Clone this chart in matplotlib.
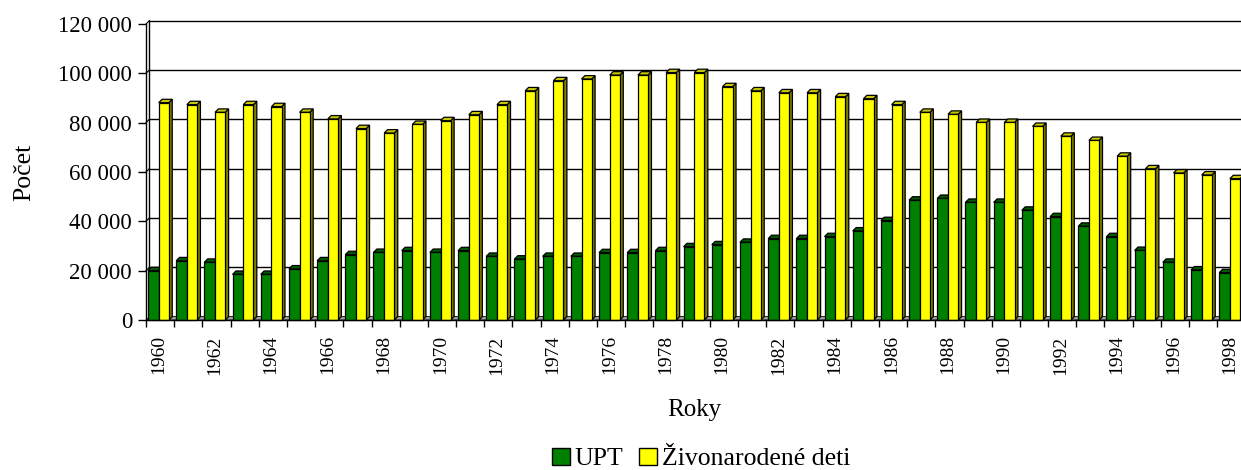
import matplotlib
matplotlib.use('Agg')
import matplotlib.pyplot as plt
from matplotlib.patches import Polygon, Patch
from matplotlib.ticker import FuncFormatter
import numpy as np

years = list(range(1960, 1999))
upt = [20000, 24000, 23400, 18500, 18500, 20700, 24000, 26500, 27400, 28100,
       27400, 28100, 25800, 24700, 25800, 25800, 27300, 27300, 28100, 29700,
       30500, 31500, 33000, 33000, 33800, 36100, 40300, 48600, 49300, 47700,
       47700, 44500, 41900, 38000, 33800, 28200, 23400, 20300, 19200]
births = [88100, 87300, 84200, 87300, 86500, 84200, 81500, 77600, 75800, 79300,
          80800, 83200, 87300, 92900, 97000, 97700, 99300, 99300, 100300, 100300,
          94600, 92900, 92100, 92100, 90500, 89700, 87300, 84200, 83400, 80100,
          80100, 78500, 74500, 72800, 66400, 61300, 59600, 58800, 57300]
series_names = ['UPT', 'Živonarodené deti']
x_label = 'Roky'
y_label = 'Počet'

plt.rcParams['font.family'] = ['Liberation Serif', 'DejaVu Serif']

W, H = 1241, 470
fig = plt.figure(figsize=(W / 100, H / 100), dpi=100)
n = len(years)
cat_px = 28.19
ax = fig.add_axes([146 / W, 150 / H, n * cat_px / W, 296 / H])
ymax = 120000
ax.set_xlim(0, n)
ax.set_ylim(0, ymax)

depth_px = 3.4
dx = depth_px / cat_px
dy = depth_px * ymax / 296.0

# back wall gridlines
for v in range(20000, ymax + 1, 20000):
    ax.plot([dx, n + dx], [v + dy, v + dy], color='black', lw=1.0, zorder=1, clip_on=False)
    ax.plot([0, dx], [v, v + dy], color='black', lw=0.8, zorder=1, clip_on=False)
# back wall vertical line
ax.plot([dx, dx], [dy, ymax + dy], color='black', lw=1.0, zorder=1, clip_on=False)
# floor
ax.add_patch(Polygon([(0, 0), (n, 0), (n + dx, dy), (dx, dy)], closed=True,
                     facecolor='#a0a0a0', edgecolor='black', lw=0.6, zorder=1.5, clip_on=False))

x = np.arange(n)
g_off, g_w = 0.07, 0.38
y_off, y_w = 0.45, 0.36


def draw_3d(xs, vals, width, top, side, z):
    for x0, h in zip(xs, vals):
        x1 = x0 + width
        ax.add_patch(Polygon([(x1, 0), (x1, h), (x1 + dx, h + dy), (x1 + dx, dy)],
                             closed=True, facecolor=side, edgecolor='black', lw=0.9,
                             zorder=z, clip_on=False))
        ax.add_patch(Polygon([(x0, h), (x1, h), (x1 + dx, h + dy), (x0 + dx, h + dy)],
                             closed=True, facecolor=top, edgecolor='black', lw=0.9,
                             zorder=z, clip_on=False))


draw_3d(x + g_off, upt, g_w, '#005a00', '#003c00', 2)
ax.bar(x + g_off, upt, width=g_w, align='edge', color='#008000', edgecolor='black',
       lw=0.9, zorder=2.1, clip_on=False)
draw_3d(x + y_off, births, y_w, '#c8c800', '#808000', 2.2)
ax.bar(x + y_off, births, width=y_w, align='edge', color='#ffff00', edgecolor='black',
       lw=0.9, zorder=2.3, clip_on=False)

for s in ['top', 'right']:
    ax.spines[s].set_visible(False)
ax.spines['left'].set_linewidth(1.0)
ax.spines['bottom'].set_linewidth(1.0)
ax.spines['left'].set_zorder(3)
ax.spines['bottom'].set_zorder(3)

ax.set_yticks(range(0, ymax + 1, 20000))
ax.yaxis.set_major_formatter(FuncFormatter(lambda v, p: f"{int(v):,}".replace(',', ' ')))
ax.tick_params(axis='y', direction='out', length=6, width=1, pad=4, labelsize=16.5)

ax.set_xticks(np.arange(0, n + 1))
ax.set_xticklabels([])
lab_idx = [i for i in range(n) if years[i] % 2 == 0]
ax.set_xticks([i + 0.44 for i in lab_idx], labels=[str(years[i]) for i in lab_idx], minor=True)
ax.tick_params(axis='x', which='major', direction='out', length=5, width=1)
ax.tick_params(axis='x', which='minor', length=0, pad=11, labelsize=14, labelrotation=90)

fig.text(24 / W, 1 - 172 / H, y_label, rotation=90, ha='center', va='center', fontsize=18.5)
fig.text(694 / W, 1 - 410 / H, x_label, ha='center', va='center', fontsize=18)

handles = [Patch(facecolor='#008000', edgecolor='black'),
           Patch(facecolor='#ffff00', edgecolor='black')]
fig.legend(handles, series_names, loc='center', bbox_to_anchor=(701 / W, 1 - 459 / H),
           ncol=2, frameon=False, fontsize=18.5, handlelength=0.7, handleheight=0.7,
           handletextpad=0.2, columnspacing=0.6, borderpad=0, borderaxespad=0)

fig.savefig('out.png', dpi=100)
